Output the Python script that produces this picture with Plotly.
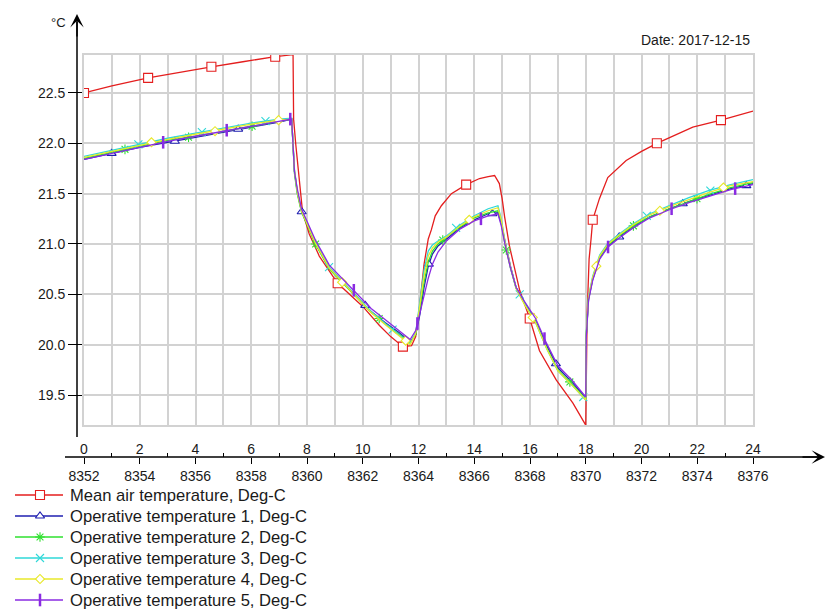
import plotly.graph_objects as go

W, H = 827, 613

# ---------------- data ----------------
RED_HOURS = [0, 1, 2.3, 3.5, 4.57, 5.7, 6.86, 7.5, 7.52, 7.6, 7.72, 7.84, 8.08, 8.44, 9.1,
             10.0, 10.6, 11.0, 11.44, 11.75, 11.9, 12.04, 12.2, 12.35, 12.46, 12.6, 12.82,
             13.18, 13.71, 14.19, 14.5, 14.73, 14.9, 15.0, 15.09, 15.27, 15.63, 15.99, 16.34,
             16.94, 17.54, 18.0, 18.05, 18.12, 18.19, 18.25, 18.49, 18.79, 19.45, 20.0, 20.55,
             21.2, 21.84, 22.85, 24.0]
RED_VALUES = [22.50, 22.57, 22.65, 22.71, 22.76, 22.81, 22.86, 22.88, 22.24, 21.98,
              21.62, 21.32, 21.10, 20.88, 20.61, 20.38, 20.19, 20.08, 19.98, 19.99,
              20.08, 20.38, 20.80, 21.05, 21.14, 21.28, 21.38, 21.50, 21.59, 21.65,
              21.67, 21.68, 21.60, 21.45, 21.27, 20.97, 20.54, 20.26, 19.94, 19.65,
              19.42, 19.20, 20.30, 20.85, 21.05, 21.24, 21.45, 21.66, 21.83, 21.92,
              22.00, 22.08, 22.16, 22.23, 22.32]
RED_MARKER_HOURS = [0, 2.3, 4.57, 6.86, 9.1, 11.44, 13.71, 15.99, 18.25, 20.55, 22.85]

OP_HOURS = [0, 1, 2, 3, 4, 5, 6, 7, 7.45, 7.55, 7.65, 7.8, 8.0, 8.3, 8.8, 9.3, 9.8, 10.3,
            10.8, 11.3, 11.7, 11.9, 12.05, 12.2, 12.35, 12.5, 12.7, 13.0, 13.5, 14.0, 14.5,
            14.85, 14.97, 15.1, 15.3, 15.5, 15.8, 16.2, 16.6, 17.0, 17.5, 18.0, 18.02, 18.1,
            18.25, 18.5, 18.8, 19.2, 19.7, 20.3, 21.0, 21.7, 22.4, 23.2, 24.0]
OP1 = [21.84, 21.90, 21.96, 22.01, 22.06, 22.11, 22.16, 22.21, 22.24, 21.72,
       21.52, 21.33, 21.20, 21.01, 20.76, 20.62, 20.48, 20.33, 20.22, 20.12,
       20.03, 20.10, 20.30, 20.57, 20.78, 20.90, 20.98, 21.05, 21.16, 21.24,
       21.30, 21.31, 21.20, 21.03, 20.78, 20.57, 20.42, 20.24, 19.99, 19.77,
       19.63, 19.47, 20.10, 20.45, 20.65, 20.86, 20.98, 21.07, 21.17, 21.27,
       21.35, 21.42, 21.48, 21.55, 21.60]
OP2 = [21.85, 21.91, 21.97, 22.03, 22.07, 22.12, 22.17, 22.22, 22.24, 21.70,
       21.50, 21.32, 21.19, 21.00, 20.75, 20.61, 20.47, 20.32, 20.21, 20.10,
       20.02, 20.10, 20.36, 20.62, 20.82, 20.93, 21.00, 21.07, 21.17, 21.26,
       21.31, 21.33, 21.22, 21.00, 20.76, 20.56, 20.41, 20.23, 19.97, 19.75,
       19.61, 19.46, 20.10, 20.46, 20.66, 20.87, 20.99, 21.08, 21.18, 21.27,
       21.35, 21.42, 21.49, 21.56, 21.61]
OP3 = [21.87, 21.93, 21.99, 22.05, 22.10, 22.15, 22.20, 22.24, 22.25, 21.74,
       21.53, 21.34, 21.21, 21.02, 20.77, 20.62, 20.48, 20.33, 20.21, 20.10,
       20.01, 20.12, 20.42, 20.74, 20.93, 20.99, 21.03, 21.08, 21.19, 21.28,
       21.35, 21.38, 21.25, 21.03, 20.77, 20.56, 20.41, 20.22, 19.96, 19.74,
       19.60, 19.45, 20.12, 20.48, 20.68, 20.89, 21.01, 21.10, 21.20, 21.30,
       21.38, 21.46, 21.53, 21.59, 21.64]
OP4 = [21.86, 21.92, 21.98, 22.04, 22.09, 22.14, 22.19, 22.23, 22.24, 21.73,
       21.52, 21.33, 21.20, 21.01, 20.76, 20.61, 20.47, 20.32, 20.20, 20.09,
       20.00, 20.11, 20.38, 20.68, 20.88, 20.96, 21.02, 21.07, 21.18, 21.27,
       21.33, 21.36, 21.24, 21.02, 20.77, 20.56, 20.40, 20.22, 19.96, 19.74,
       19.60, 19.45, 20.11, 20.47, 20.67, 20.88, 21.00, 21.09, 21.19, 21.29,
       21.37, 21.44, 21.51, 21.58, 21.62]
OP5 = [21.84, 21.90, 21.96, 22.02, 22.07, 22.12, 22.17, 22.22, 22.24, 21.72,
       21.55, 21.35, 21.22, 21.04, 20.79, 20.65, 20.51, 20.36, 20.25, 20.14,
       20.05, 20.14, 20.32, 20.50, 20.66, 20.80, 20.92, 21.03, 21.15, 21.23,
       21.28, 21.30, 21.18, 21.00, 20.76, 20.57, 20.43, 20.26, 20.01, 19.79,
       19.65, 19.48, 20.08, 20.44, 20.64, 20.85, 20.97, 21.06, 21.16, 21.26,
       21.34, 21.41, 21.47, 21.54, 21.59]

OP1_MK_H = [0.99, 3.26, 5.53, 7.81, 10.09, 12.37, 14.65, 16.93, 19.2, 21.48, 23.76]
OP1_MK_V = [21.90, 22.02, 22.14, 21.32, 20.39, 20.80, 21.30, 19.81, 21.07, 21.40, 21.58]
OP2_MK_H = [1.47, 3.75, 6.03, 8.31, 10.59, 12.87, 15.15, 17.43, 19.71, 21.99]
OP2_MK_V = [21.94, 22.06, 22.17, 21.00, 20.26, 21.04, 20.94, 19.63, 21.18, 21.45]
OP3_MK_H = [1.95, 4.23, 6.51, 8.79, 11.07, 13.35, 15.63, 17.91, 20.19, 22.47]
OP3_MK_V = [21.99, 22.11, 22.22, 20.77, 20.15, 21.16, 20.50, 19.48, 21.28, 21.53]
OP4_MK_H = [2.42, 4.70, 6.98, 9.26, 11.54, 13.82, 16.10, 18.38, 20.66, 22.94]
OP4_MK_V = [22.01, 22.12, 22.23, 20.62, 20.04, 21.24, 20.27, 20.78, 21.33, 21.56]
OP5_MK_H = [2.84, 5.12, 7.40, 9.68, 11.96, 14.24, 16.52, 18.80, 21.08, 23.36]
OP5_MK_V = [22.01, 22.13, 22.24, 20.54, 20.21, 21.25, 20.06, 20.97, 21.35, 21.55]

SERIES_NAMES = ["Mean air temperature, Deg-C",
                "Operative temperature 1, Deg-C",
                "Operative temperature 2, Deg-C",
                "Operative temperature 3, Deg-C",
                "Operative temperature 4, Deg-C",
                "Operative temperature 5, Deg-C"]
HOUR_TICKS = [0, 2, 4, 6, 8, 10, 12, 14, 16, 18, 20, 22, 24]
HOUR_LABELS = ["0", "2", "4", "6", "8", "10", "12", "14", "16", "18", "20", "22", "24"]
ABS_LABELS = ["8352", "8354", "8356", "8358", "8360", "8362", "8364", "8366", "8368",
              "8370", "8372", "8374", "8376"]
DATE_TEXT = "Date: 2017-12-15"
Y_UNIT = "°C"

# ---------------- styles ----------------
COLORS = ["#e41e1e", "#1f1fb0", "#2fe02f", "#2fd8d8", "#e8e82a", "#8a2be2"]
SYMBOLS = ["square", "triangle-up", "asterisk-open", "x-thin-open", "diamond", "line-ns-open"]
MSIZES = [9, 8, 8, 8, 7, 9]
FONT = "Liberation Sans, Arial, sans-serif"
GRID = "#d2d2d2"

# layout in pixels
PL, PR, PT, PB = 84, 753, 55, 425
LEG_Y0, LEG_DY, LEG_X0, LEG_X1, LEG_XM, LEG_XT = 495, 21, 15, 63, 40, 68
def px(x): return x / W
def py(y): return 1 - y / H

fig = go.Figure()

op_vals = [OP1, OP2, OP3, OP4, OP5]
op_mk = [(OP1_MK_H, OP1_MK_V), (OP2_MK_H, OP2_MK_V), (OP3_MK_H, OP3_MK_V),
         (OP4_MK_H, OP4_MK_V), (OP5_MK_H, OP5_MK_V)]

def marker_style(i):
    fill = "white" if SYMBOLS[i] in ("square", "triangle-up", "diamond") else COLORS[i]
    lw = 2.5 if SYMBOLS[i] == "line-ns-open" else 1.1
    return dict(symbol=SYMBOLS[i], size=MSIZES[i], color=fill,
                line=dict(color=COLORS[i], width=lw))

# red series
fig.add_trace(go.Scatter(x=RED_HOURS, y=RED_VALUES, mode="lines",
                         line=dict(color=COLORS[0], width=1.3),
                         showlegend=False, hoverinfo="skip"))
rmx = [h for h in RED_HOURS if h in RED_MARKER_HOURS]
rmy = [v for h, v in zip(RED_HOURS, RED_VALUES) if h in RED_MARKER_HOURS]
fig.add_trace(go.Scatter(x=rmx, y=rmy, mode="markers", marker=marker_style(0),
                         showlegend=False, hoverinfo="skip"))

for k in range(5):
    i = k + 1
    fig.add_trace(go.Scatter(x=OP_HOURS, y=op_vals[k], mode="lines",
                             line=dict(color=COLORS[i], width=1.3),
                             showlegend=False, hoverinfo="skip"))
    fig.add_trace(go.Scatter(x=op_mk[k][0], y=op_mk[k][1], mode="markers",
                             marker=marker_style(i), showlegend=False, hoverinfo="skip"))

# dummy traces to bind the label axes
fig.add_trace(go.Scatter(x=[0], y=[None], xaxis="x2", yaxis="y", showlegend=False,
                         hoverinfo="skip", mode="markers"))
fig.add_trace(go.Scatter(x=[0], y=[None], xaxis="x3", yaxis="y", showlegend=False,
                         hoverinfo="skip", mode="markers"))

# manual legend (pixel-space overlay axes)
for i, name in enumerate(SERIES_NAMES):
    ry = LEG_Y0 + LEG_DY * i
    fig.add_trace(go.Scatter(x=[LEG_X0, LEG_X1], y=[ry, ry], mode="lines",
                             line=dict(color=COLORS[i], width=1.3), xaxis="x4", yaxis="y4",
                             showlegend=False, hoverinfo="skip"))
    fig.add_trace(go.Scatter(x=[LEG_XM], y=[ry], mode="markers", marker=marker_style(i),
                             xaxis="x4", yaxis="y4", showlegend=False, hoverinfo="skip"))
    fig.add_annotation(x=px(LEG_XT), y=py(ry), xref="paper", yref="paper", text=name,
                       showarrow=False, xanchor="left", yanchor="middle",
                       font=dict(family=FONT, size=16.6, color="#1a1a1a"))

dom_x = [px(PL), px(PR)]
axis_pos = py(457)
tickfont = dict(family=FONT, size=14, color="#1a1a1a")

fig.update_layout(
    width=W, height=H,
    margin=dict(l=0, r=0, t=0, b=0, pad=0, autoexpand=False),
    paper_bgcolor="white", plot_bgcolor="rgba(0,0,0,0)",
    font=dict(family=FONT, size=14, color="#1a1a1a"),
    showlegend=False,
    xaxis=dict(domain=dom_x, range=[0, 24], dtick=1, tick0=0, showgrid=True,
               gridcolor=GRID, gridwidth=2, showticklabels=False, ticks="",
               showline=True, mirror=True, linecolor=GRID, linewidth=2,
               zeroline=False, fixedrange=True, automargin=False),
    yaxis=dict(domain=[py(PB), py(PT)], range=[19.202, 22.877], tick0=19.5, dtick=0.5,
               tickformat=".1f", showgrid=True, gridcolor=GRID, gridwidth=2,
               showline=True, mirror=True, linecolor=GRID, linewidth=2,
               ticks="outside", ticklen=14, tickcolor="black", tickwidth=1,
               tickfont=tickfont, zeroline=False, fixedrange=True, automargin=False),
    xaxis2=dict(overlaying="x", anchor="free", position=axis_pos, domain=dom_x,
                range=[0, 24], tickmode="array", tickvals=HOUR_TICKS, ticktext=ABS_LABELS,
                ticks="outside", ticklen=6, tickcolor="black", tickwidth=1,
                showline=False, showgrid=False, zeroline=False, tickfont=tickfont,
                minor=dict(tickmode="array", tickvals=[1, 3, 5, 7, 9, 11, 13, 15, 17, 19, 21, 23],
                           ticks="inside", ticklen=4, tickcolor="black", tickwidth=1,
                           showgrid=False),
                fixedrange=True, automargin=False),
    xaxis3=dict(overlaying="x", anchor="free", position=axis_pos, side="top", domain=dom_x,
                range=[0, 24], tickmode="array", tickvals=HOUR_TICKS, ticktext=HOUR_LABELS,
                ticks="", showline=False, showgrid=False, zeroline=False,
                tickfont=tickfont, fixedrange=True, automargin=False),
    xaxis4=dict(domain=[0, 1], range=[0, W], visible=False, anchor="y4", fixedrange=True),
    yaxis4=dict(domain=[0, 1], range=[H, 0], visible=False, anchor="x4", fixedrange=True),
)

# axis lines with arrows
fig.add_shape(type="line", xref="paper", yref="paper", x0=px(77), x1=px(77),
              y0=py(437), y1=py(22), line=dict(color="black", width=1.5))
fig.add_shape(type="line", xref="paper", yref="paper", x0=px(65), x1=px(818),
              y0=py(457), y1=py(457), line=dict(color="black", width=1.5))
fig.add_annotation(x=px(77), y=py(14), xref="paper", yref="paper", ax=0, ay=24,
                   text="", showarrow=True, arrowhead=3, arrowsize=1.5, arrowwidth=1.5,
                   arrowcolor="black", standoff=0)
fig.add_annotation(x=px(825), y=py(457), xref="paper", yref="paper", ax=-24, ay=0,
                   text="", showarrow=True, arrowhead=3, arrowsize=1.5, arrowwidth=1.5,
                   arrowcolor="black", standoff=0)
fig.add_annotation(x=px(58), y=py(22), xref="paper", yref="paper", text=Y_UNIT,
                   showarrow=False, font=dict(family=FONT, size=13, color="#1a1a1a"),
                   xanchor="center", yanchor="middle")
fig.add_annotation(x=px(752), y=py(40), xref="paper", yref="paper", text=DATE_TEXT,
                   showarrow=False, font=dict(family=FONT, size=14, color="#1a1a1a"),
                   xanchor="right", yanchor="middle")

fig.write_html("out.html", config={"displayModeBar": False},
               post_script="document.body.style.margin='0';"
                           "document.body.style.overflow='hidden';")
